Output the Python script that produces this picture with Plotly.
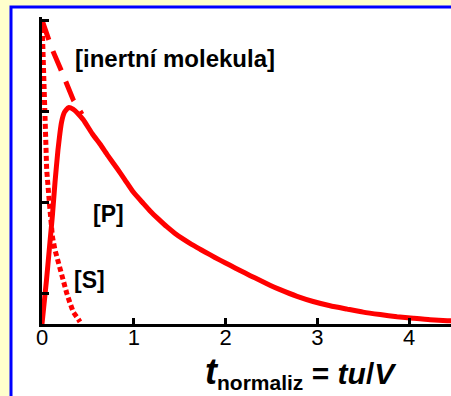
import plotly.graph_objects as go

# --- data ---
t_inert = [0.0, 0.106, 0.204, 0.341, 0.436]
c_inert = [1.0, 0.907, 0.838, 0.737, 0.690]

t_S = [0.0, 0.011, 0.022, 0.033, 0.051, 0.087, 0.114, 0.142, 0.178, 0.215,
       0.232, 0.269, 0.305, 0.341, 0.396, 0.414]
c_S = [1.0, 0.90, 0.77, 0.64, 0.507, 0.375, 0.286, 0.243, 0.20, 0.168,
       0.135, 0.102, 0.069, 0.039, 0.016, 0.007]

t_P = [0.0, 0.049, 0.087, 0.114, 0.142, 0.174, 0.213, 0.245, 0.289, 0.338,
       0.393, 0.45, 0.55, 0.632, 0.72, 0.815, 0.9, 0.995, 1.1, 1.178,
       1.27, 1.36, 1.45, 1.54, 1.63, 1.723, 1.83, 1.94, 2.05, 2.159,
       2.27, 2.38, 2.49, 2.595, 2.78, 2.955, 3.14, 3.326, 3.5, 3.686,
       3.87, 4.046, 4.23, 4.417, 4.67]
c_P = [0.0, 0.145, 0.27, 0.359, 0.467, 0.572, 0.664, 0.697, 0.712, 0.707,
       0.692, 0.672, 0.625, 0.592, 0.553, 0.513, 0.476, 0.434, 0.398, 0.372,
       0.345, 0.32, 0.298, 0.279, 0.262, 0.246, 0.228, 0.21, 0.193, 0.176,
       0.159, 0.143, 0.127, 0.113, 0.091, 0.074, 0.06, 0.049, 0.039, 0.031,
       0.024, 0.019, 0.014, 0.011, 0.007]

x_ticks = [0, 1, 2, 3, 4]
x_tick_labels = ["0", "1", "2", "3", "4"]
y_ticks = [0.1, 0.4, 0.7, 1.0]

W, H = 451, 396
L, R, T, B = 42, 0, 17, 72
pw, ph = W - L - R, H - T - B

def px(xp):
    return (xp - L) / pw

def py(yp):
    return (H - B - yp) / ph

FONT = "Liberation Sans, Arial, sans-serif"
RED = "#FF0000"

fig = go.Figure()
fig.add_trace(go.Scatter(x=t_inert, y=c_inert, mode="lines",
                         line=dict(color=RED, width=5, dash="21px,12px"),
                         hoverinfo="skip"))
fig.add_trace(go.Scatter(x=t_S, y=c_S, mode="lines",
                         line=dict(color=RED, width=5, dash="5px,3px"),
                         hoverinfo="skip"))
fig.add_trace(go.Scatter(x=t_P, y=c_P, mode="lines",
                         line=dict(color=RED, width=5, shape="spline", smoothing=0.5),
                         hoverinfo="skip"))

# white panel with blue frame
fig.add_shape(type="rect", xref="paper", yref="paper",
              x0=px(11), x1=px(470), y0=py(420), y1=py(7),
              fillcolor="white", line=dict(color="#0000FF", width=3),
              layer="below")

ann = dict(showarrow=False, font=dict(family=FONT, size=23, color="black"))
fig.add_annotation(text="<b>[inertní molekula]</b>", xref="paper", yref="paper",
                   x=px(175), y=py(59), xanchor="center", yanchor="middle",
                   showarrow=False, font=dict(family=FONT, size=24, color="black"))
fig.add_annotation(text="<b>[P]</b>", xref="paper", yref="paper",
                   x=px(108), y=py(214), xanchor="center", yanchor="middle", **ann)
fig.add_annotation(text="<b>[S]</b>", xref="paper", yref="paper",
                   x=px(89), y=py(280), xanchor="center", yanchor="middle", **ann)
fig.add_annotation(
    text="<b><i><span style='font-size:36px'>t</span></i><sub>normaliz</sub> = <i>tu</i>/<i>V</i></b>",
    xref="paper", yref="paper", x=px(301), y=py(372),
    xanchor="center", yanchor="middle",
    showarrow=False, font=dict(family=FONT, size=30, color="black"))

fig.update_xaxes(range=[0, pw / 91.75], tickvals=x_ticks, ticktext=x_tick_labels,
                 ticks="inside", ticklen=6, tickwidth=2.5, tickcolor="black",
                 showline=True, linecolor="black", linewidth=2.5,
                 showgrid=False, zeroline=False, ticklabelstandoff=-8,
                 tickfont=dict(family=FONT, size=22, color="black"))
fig.update_yaxes(range=[0, ph / 304.0], tickvals=y_ticks, showticklabels=False,
                 ticks="inside", ticklen=7, tickwidth=2.5, tickcolor="black",
                 showline=True, linecolor="black", linewidth=2.5,
                 showgrid=False, zeroline=False)

fig.update_layout(width=W, height=H, margin=dict(l=L, r=R, t=T, b=B),
                  paper_bgcolor="#FFFFCC", plot_bgcolor="rgba(0,0,0,0)",
                  showlegend=False)

fig.write_html("out.html")
